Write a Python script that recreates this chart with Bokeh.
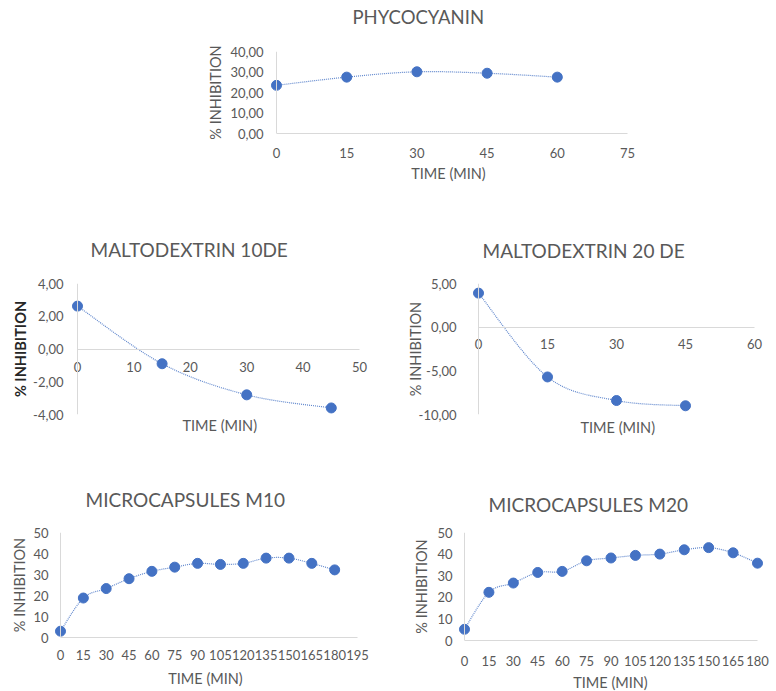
import numpy as np
from bokeh.plotting import figure
from bokeh.models import LinearAxis, Range1d, FixedTicker, Span, Title
from bokeh.layouts import column, row
from bokeh.embed import file_html
from bokeh.resources import INLINE

# ---------------- data ----------------
phyco_time = [0, 15, 30, 45, 60]
phyco_inhibition = [23.5, 27.5, 30.1, 29.4, 27.5]
phyco_xticks = [0, 15, 30, 45, 60, 75]
phyco_yticks = [0, 10, 20, 30, 40]
phyco_ylabels = ["0,00", "10,00", "20,00", "30,00", "40,00"]

m10de_time = [0, 15, 30, 45]
m10de_inhibition = [2.62, -0.9, -2.8, -3.6]
m10de_xticks = [0, 10, 20, 30, 40, 50]
m10de_yticks = [-4, -2, 0, 2, 4]
m10de_ylabels = ["-4,00", "-2,00", "0,00", "2,00", "4,00"]

m20de_time = [0, 15, 30, 45]
m20de_inhibition = [3.9, -5.7, -8.4, -9.0]
m20de_xticks = [0, 15, 30, 45, 60]
m20de_yticks = [-10, -5, 0, 5]
m20de_ylabels = ["-10,00", "-5,00", "0,00", "5,00"]

mc_time = [0, 15, 30, 45, 60, 75, 90, 105, 120, 135, 150, 165, 180]
mc10_inhibition = [3.0, 18.8, 23.3, 28.0, 31.5, 33.5, 35.3, 34.8, 35.3, 37.8, 37.8, 35.3, 32.2]
mc20_inhibition = [5.2, 22.3, 26.6, 31.5, 32.0, 36.9, 38.2, 39.4, 40.0, 42.0, 43.0, 40.6, 35.8]
mc10_xticks = [0, 15, 30, 45, 60, 75, 90, 105, 120, 135, 150, 165, 180, 195]
mc20_xticks = [0, 15, 30, 45, 60, 75, 90, 105, 120, 135, 150, 165, 180]
mc_yticks = [0, 10, 20, 30, 40, 50]

FONT = "Lato"
GREY = "#595959"
AXIS = "#D9D9D9"
BLUE = "#4472C4"


def smooth(xs, ys, n=24):
    P = np.column_stack([np.asarray(xs, float), np.asarray(ys, float)])
    Pm = np.vstack([P[0], P, P[-1]])
    t = np.linspace(0, 1, n)[1:, None]
    out = [P[0]]
    for i in range(len(P) - 1):
        p0, p1, p2, p3 = Pm[i], Pm[i + 1], Pm[i + 2], Pm[i + 3]
        c1 = p1 + (p2 - p0) / 6
        c2 = p2 - (p3 - p1) / 6
        seg = (1 - t) ** 3 * p1 + 3 * (1 - t) ** 2 * t * c1 + 3 * (1 - t) * t ** 2 * c2 + t ** 3 * p2
        out.extend(seg)
    out = np.array(out)
    return out[:, 0], out[:, 1]


def style_title(t, size, left, stand):
    t.text_font = FONT
    t.text_font_size = size
    t.text_font_style = "normal"
    t.text_color = GREY
    t.align = "left"
    t.offset = left
    t.standoff = stand


def style_axis(ax, label_size):
    ax.axis_line_color = AXIS
    ax.axis_line_width = 1
    ax.major_tick_line_color = None
    ax.minor_tick_line_color = None
    ax.major_tick_out = 0
    ax.major_tick_in = 0
    ax.minor_tick_out = 0
    ax.minor_tick_in = 0
    ax.major_label_text_font = FONT
    ax.major_label_text_font_size = label_size
    ax.major_label_text_color = GREY
    ax.axis_label_text_font = FONT
    ax.axis_label_text_font_size = "14.5px"
    ax.axis_label_text_color = GREY
    ax.axis_label_text_font_style = "normal"


def panel(title, xs, ys, xticks, yticks, ylabels, xmax, ymin, ymax,
          ax_x0, ax_x1, ax_ytop, ax_ybot, fig_l, fig_r, fig_t, fig_b,
          pad_l, pad_r, zero_axis, t_left, t_stand,
          title_size="19px", b_left=0, b_stand=0,
          xl_stand=12, xa_stand=6, yl_stand=12, ya_stand=8,
          ylab_color=GREY, ylab_style="normal", tick_size="13px"):
    ppu = (ax_x1 - ax_x0) / xmax
    f_l = ax_x0 - pad_l
    f_r = ax_x1 + pad_r
    p = figure(frame_width=f_r - f_l, frame_height=ax_ybot - ax_ytop,
               x_range=Range1d(-pad_l / ppu, xmax + pad_r / ppu),
               y_range=Range1d(ymin, ymax),
               x_axis_location=None, y_axis_location=None,
               min_border_left=f_l - fig_l, min_border_right=fig_r - f_r,
               min_border_top=ax_ytop - fig_t, min_border_bottom=fig_b - ax_ybot,
               output_backend="svg", toolbar_location=None, title=title)
    p.grid.visible = False
    p.outline_line_color = None
    p.background_fill_color = "white"
    p.border_fill_color = "white"
    if title:
        style_title(p.title, title_size, t_left - f_l, t_stand)

    overrides = {t: l for t, l in zip(yticks, ylabels)} if ylabels else {}
    ya = LinearAxis(ticker=FixedTicker(ticks=yticks),
                    major_label_overrides=overrides,
                    axis_label="% INHIBITION")
    style_axis(ya, tick_size)
    ya.axis_line_color = None
    ya.major_label_standoff = yl_stand - pad_l
    ya.axis_label_standoff = ya_stand
    ya.axis_label_text_color = ylab_color
    ya.axis_label_text_font_style = ylab_style
    p.add_layout(ya, "left")
    p.add_layout(Span(location=0, dimension="height", line_color=AXIS, line_width=1))

    if zero_axis:
        bt = Title(text="TIME (MIN)", align="left", offset=b_left - f_l, standoff=b_stand,
                   text_font=FONT, text_font_size="14.5px", text_font_style="normal",
                   text_color=GREY)
        p.add_layout(bt, "below")
        xa = LinearAxis(fixed_location=0, bounds=(0, xmax),
                        ticker=FixedTicker(ticks=xticks))
        style_axis(xa, tick_size)
        xa.major_label_standoff = xl_stand
        p.add_layout(xa, "below")
    else:
        xa = LinearAxis(bounds=(0, xmax), ticker=FixedTicker(ticks=xticks),
                        axis_label="TIME (MIN)")
        style_axis(xa, tick_size)
        xa.major_label_standoff = xl_stand
        xa.axis_label_standoff = xa_stand
        p.add_layout(xa, "below")

    lx, ly = smooth(xs, ys)
    p.line(lx, ly, line_color=BLUE, line_width=1.2, line_dash="1 1", line_alpha=0.85)
    p.scatter(xs, ys, size=10, fill_color=BLUE, line_color=BLUE)
    return p


# header strip carrying the top chart's title
header = figure(frame_width=660, frame_height=1, min_border_top=0, min_border_bottom=0,
                min_border_left=0, min_border_right=0,
                x_axis_location=None, y_axis_location=None,
                output_backend="svg", toolbar_location=None, title="PHYCOCYANIN")
header.grid.visible = False
header.outline_line_color = None
header.background_fill_color = "white"
header.border_fill_color = "white"
style_title(header.title, "18.5px", 352, 6)

p1 = panel(None, phyco_time, phyco_inhibition, phyco_xticks, phyco_yticks,
           phyco_ylabels, 75, 0, 40,
           276, 627, 52, 134, 0, 660, 32, 200, 7, 0, False, 353, 0,
           xl_stand=14, xa_stand=4, yl_stand=13, ya_stand=3)

p2 = panel("MALTODEXTRIN 10DE", m10de_time, m10de_inhibition, m10de_xticks, m10de_yticks,
           m10de_ylabels, 50, -4, 4,
           77, 359, 284, 415, 0, 390, 200, 465, 7, 10, True, 90, 46,
           b_left=182, b_stand=1,
           xl_stand=13, yl_stand=14, ya_stand=1, ylab_color="#262626", ylab_style="bold")

p3 = panel("MALTODEXTRIN 20 DE", m20de_time, m20de_inhibition, m20de_xticks, m20de_yticks,
           m20de_ylabels, 60, -10, 5,
           478, 754, 283, 414, 390, 772, 200, 465, 7, 10, True, 482, 44,
           b_left=580, b_stand=4,
           xl_stand=12, yl_stand=22, ya_stand=-8)

p4 = panel("MICROCAPSULES M10", mc_time, mc10_inhibition, mc10_xticks, mc_yticks,
           None, 195, 0, 50,
           60, 357, 533, 638, 0, 390, 465, 691, 7, 0, False, 85, 43,
           xl_stand=12, xa_stand=7, yl_stand=12, ya_stand=2)

p5 = panel("MICROCAPSULES M20", mc_time, mc20_inhibition, mc20_xticks, mc_yticks,
           None, 180, 0, 50,
           464, 757, 532, 640, 390, 772, 465, 691, 7, 6, False, 488, 34,
           xl_stand=15, xa_stand=5, yl_stand=12, ya_stand=4)

layout = column(header, row(p1), row(p2, p3), row(p4, p5), spacing=0)

open("out.html", "w").write(file_html(layout, INLINE))
